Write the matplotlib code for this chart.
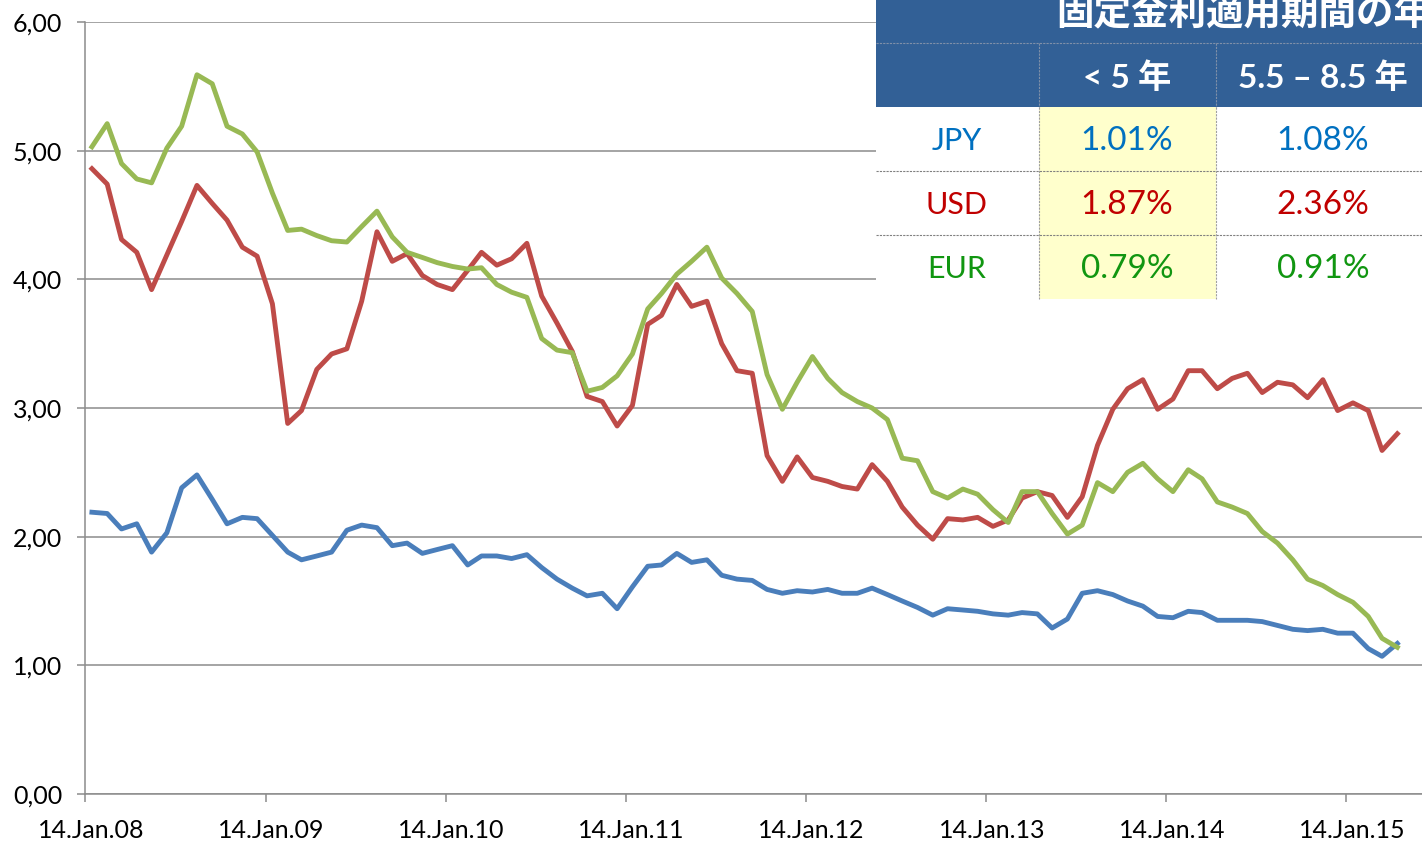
import numpy as np
import pandas as pd
import matplotlib
matplotlib.use('Agg')
import matplotlib.pyplot as plt
import matplotlib.dates as mdates
from matplotlib.ticker import FuncFormatter
from matplotlib.patches import Rectangle
from matplotlib.transforms import ScaledTranslation

# monthly observations, Jan 2008 - Apr 2015
dates = pd.date_range('2008-01-01', periods=88, freq='MS') + pd.Timedelta(days=27)

jpy = [2.19, 2.18, 2.06, 2.10, 1.88, 2.03, 2.38, 2.48, 2.29, 2.10,
       2.15, 2.14, 2.01, 1.88, 1.82, 1.85, 1.88, 2.05, 2.09, 2.07,
       1.93, 1.95, 1.87, 1.90, 1.93, 1.78, 1.85, 1.85, 1.83, 1.86,
       1.76, 1.67, 1.60, 1.54, 1.56, 1.44, 1.61, 1.77, 1.78, 1.87,
       1.80, 1.82, 1.70, 1.67, 1.66, 1.59, 1.56, 1.58, 1.57, 1.59,
       1.56, 1.56, 1.60, 1.55, 1.50, 1.45, 1.39, 1.44, 1.43, 1.42,
       1.40, 1.39, 1.41, 1.40, 1.29, 1.36, 1.56, 1.58, 1.55, 1.50,
       1.46, 1.38, 1.37, 1.42, 1.41, 1.35, 1.35, 1.35, 1.34, 1.31,
       1.28, 1.27, 1.28, 1.25, 1.25, 1.13, 1.07, 1.17]

usd = [4.86, 4.74, 4.31, 4.21, 3.92, 4.19, 4.45, 4.73, 4.59, 4.46,
       4.25, 4.18, 3.81, 2.88, 2.98, 3.30, 3.42, 3.46, 3.83, 4.37,
       4.14, 4.20, 4.03, 3.96, 3.92, 4.07, 4.21, 4.11, 4.16, 4.28,
       3.87, 3.66, 3.44, 3.09, 3.05, 2.86, 3.02, 3.65, 3.72, 3.96,
       3.79, 3.83, 3.50, 3.29, 3.27, 2.63, 2.43, 2.62, 2.46, 2.43,
       2.39, 2.37, 2.56, 2.43, 2.23, 2.09, 1.98, 2.14, 2.13, 2.15,
       2.08, 2.13, 2.30, 2.35, 2.32, 2.15, 2.31, 2.71, 2.99, 3.15,
       3.22, 2.99, 3.07, 3.29, 3.29, 3.15, 3.23, 3.27, 3.12, 3.20,
       3.18, 3.08, 3.22, 2.98, 3.04, 2.98, 2.67, 2.80]

eur = [5.03, 5.21, 4.90, 4.78, 4.75, 5.02, 5.19, 5.59, 5.52, 5.19,
       5.13, 4.99, 4.67, 4.38, 4.39, 4.34, 4.30, 4.29, 4.41, 4.53,
       4.33, 4.21, 4.17, 4.13, 4.10, 4.08, 4.09, 3.96, 3.90, 3.86,
       3.54, 3.45, 3.43, 3.13, 3.16, 3.25, 3.42, 3.77, 3.89, 4.04,
       4.14, 4.25, 4.01, 3.89, 3.75, 3.26, 2.99, 3.20, 3.40, 3.23,
       3.12, 3.05, 3.00, 2.91, 2.61, 2.59, 2.35, 2.30, 2.37, 2.33,
       2.21, 2.11, 2.35, 2.35, 2.18, 2.02, 2.09, 2.42, 2.35, 2.50,
       2.57, 2.45, 2.35, 2.52, 2.45, 2.27, 2.23, 2.18, 2.04, 1.95,
       1.82, 1.67, 1.62, 1.55, 1.49, 1.38, 1.21, 1.14]

# table contents
title = '固定金利適用期間の年'
col_heads = ['< 5 年', '5.5 – 8.5 年']
currencies = ['JPY', 'USD', 'EUR']
rate_short = ['1.01%', '1.87%', '0.79%']
rate_long = ['1.08%', '2.36%', '0.91%']
cur_colors = ['#0070C0', '#C00000', '#119611']

latin = ['Lato', 'Noto Sans CJK JP', 'DejaVu Sans']
plt.rcParams['font.family'] = latin

fig = plt.figure(figsize=(14.22, 8.41), dpi=100)
ax = fig.add_axes([85 / 1422, 47 / 841, 1 - 85 / 1422, 772 / 841])

ax.plot(dates, jpy, color='#4A7EBB', lw=3.5, solid_joinstyle='round')
ax.plot(dates, usd, color='#BE4B48', lw=3.5, solid_joinstyle='round')
ax.plot(dates, eur, color='#98B954', lw=3.5, solid_joinstyle='round')

x0 = pd.Timestamp('2008-01-14')
ax.set_xlim(x0, x0 + pd.Timedelta(days=2711))
ax.set_ylim(0, 6)
ax.set_yticks(np.arange(0, 7, 1))
ax.yaxis.set_major_formatter(FuncFormatter(lambda v, p: '{:.2f}'.format(v).replace('.', ',')))
ax.set_xticks([pd.Timestamp('{}-01-14'.format(y)) for y in range(2008, 2016)])
ax.xaxis.set_major_formatter(mdates.DateFormatter('%d.%b.%y'))

ax.grid(axis='y', color='#8C8C8C', lw=1.1)
ax.set_axisbelow(True)
for s in ['top', 'right']:
    ax.spines[s].set_visible(False)
for s in ['left', 'bottom']:
    ax.spines[s].set_color('#8C8C8C')
    ax.spines[s].set_linewidth(1.1)
ax.tick_params(axis='both', colors='#8C8C8C', width=1.1, length=6, labelsize=18,
               labelcolor='black')
ax.tick_params(axis='x', pad=12)
ax.tick_params(axis='y', pad=10.5)
# date labels sit a little right of their ticks in the original
shift = ScaledTranslation(6 / 100, 0, fig.dpi_scale_trans)
for lab in ax.get_xticklabels():
    lab.set_transform(lab.get_transform() + shift)

# overlay table in pixel coordinates
tx = fig.add_axes([0, 0, 1, 1], zorder=5)
tx.set_xlim(0, 1422)
tx.set_ylim(841, 0)
tx.axis('off')

head_blue = '#326096'
tx.add_patch(Rectangle((876, -5), 560, 112, color=head_blue, lw=0))
tx.add_patch(Rectangle((876, 107), 560, 192, color='white', lw=0))
tx.add_patch(Rectangle((1039, 107), 177, 192, color='#FFFFCC', lw=0))
tx.plot([876, 1422], [43, 43], color='#8090A8', lw=0.8, ls=(0, (2, 1)))
for yy in [171, 235]:
    tx.plot([876, 1422], [yy, yy], color='#808080', lw=0.8, ls=(0, (2, 1)))
for xx in [1039, 1216]:
    tx.plot([xx, xx], [43, 107], color='#8090A8', lw=0.8, ls=(0, (2, 1)))
    tx.plot([xx, xx], [107, 299], color='#A0A0A0', lw=0.8, ls=(0, (2, 1)))

# title is cut by the top and right edges, as in the source slide
tx.text(1056, 13, title, color='white', fontsize=27, fontweight='bold',
        family=['Noto Sans CJK JP'], ha='left', va='center')
for cx, h in zip([1127, 1323], col_heads):
    tx.text(cx, 77, h, color='white', fontsize=24, fontweight='bold',
            family=latin, ha='center', va='center')
for k in range(3):
    cy = 141 + 64 * k
    tx.text(957, cy, currencies[k], color=cur_colors[k], fontsize=22, ha='center', va='center')
    tx.text(1127, cy, rate_short[k], color=cur_colors[k], fontsize=24, ha='center', va='center')
    tx.text(1323, cy, rate_long[k], color=cur_colors[k], fontsize=24, ha='center', va='center')

fig.savefig('out.png', dpi=100)
